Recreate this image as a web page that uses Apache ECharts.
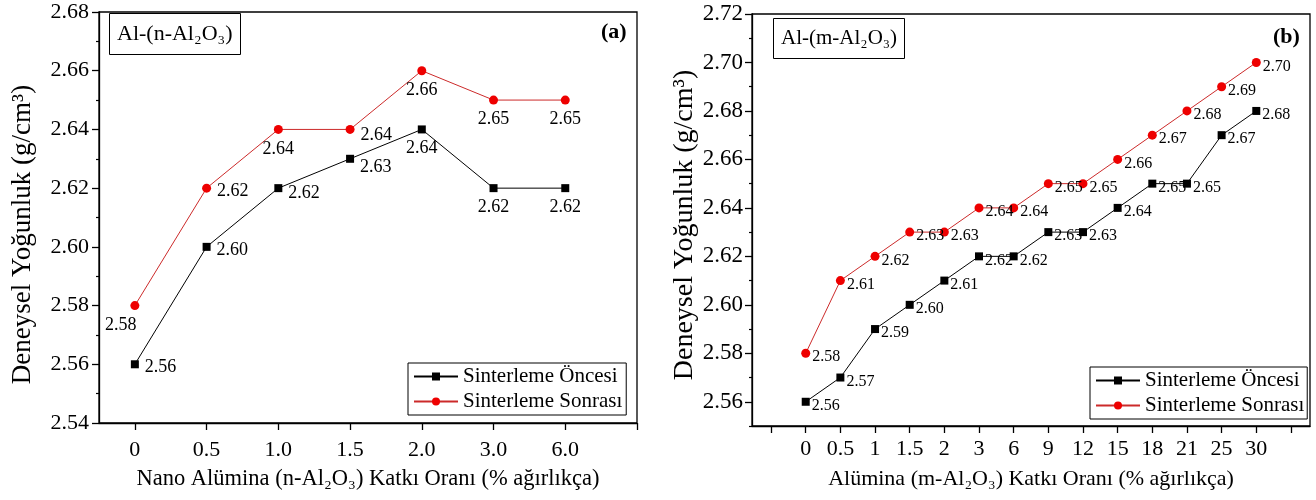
<!DOCTYPE html>
<html><head><meta charset="utf-8">
<script src="https://cdn.jsdelivr.net/npm/echarts@6/dist/echarts.min.js"></script>
<style>html,body{margin:0;padding:0;background:#fff}#c{width:1316px;height:500px}</style>
</head><body><div id="c"></div>
<script>
// ---- data ----
const categoriesA = ['0', '0.5', '1.0', '1.5', '2.0', '3.0', '6.0'];
const oncesiA = [2.56, 2.60, 2.62, 2.63, 2.64, 2.62, 2.62];
const sonrasiA = [2.58, 2.62, 2.64, 2.64, 2.66, 2.65, 2.65];

const categoriesB = ['0', '0.5', '1', '1.5', '2', '3', '6', '9', '12', '15', '18', '21', '25', '30'];
const oncesiB = [2.56, 2.57, 2.59, 2.60, 2.61, 2.62, 2.62, 2.63, 2.63, 2.64, 2.65, 2.65, 2.67, 2.68];
const sonrasiB = [2.58, 2.61, 2.62, 2.63, 2.63, 2.64, 2.64, 2.65, 2.65, 2.66, 2.67, 2.68, 2.69, 2.70];

const yTicksB = [2.56, 2.58, 2.60, 2.62, 2.64, 2.66, 2.68, 2.70, 2.72];
const yMinorB = [2.55, 2.57, 2.59, 2.61, 2.63, 2.65, 2.67, 2.69, 2.71];

const seriesNames = ['Sinterleme Öncesi', 'Sinterleme Sonrası'];
const yTitle = 'Deneysel Yoğunluk (g/cm³)';
const xTitleA = 'Nano Alümina (n-Al₂O₃) Katkı Oranı (% ağırlıkça)';
const xTitleB = 'Alümina (m-Al₂O₃) Katkı Oranı (% ağırlıkça)';

// ---- label placement (layout only) ----
const posOncesiA = ['right', 'right', 'right', 'right', 'bottom', 'bottom', 'bottom'];
const offOncesiA = [[0, 3], [0, 3], [0, 5], [0, 8], [0, 0], [0, 0], [0, 0]];
const posSonrasiA = ['bottom', 'right', 'bottom', 'right', 'bottom', 'bottom', 'bottom'];
const offSonrasiA = [[-14, 0], [0, 3], [0, 0], [0, 6], [0, 0], [0, 0], [0, 0]];

const FONT = 'Liberation Serif';
const RED_LINE = '#cc2a2a';
const RED = '#ee0000';

function buildData(vals, pos, off) {
  return vals.map((v, i) => ({
    value: [i, v],
    label: pos ? { position: pos[i], offset: off[i] } : undefined
  }));
}
const range = (a, b) => { const r = []; for (let i = a; i <= b; i++) r.push(i); return r; };

const chart = echarts.init(document.getElementById('c'), null, { renderer: 'canvas' });

const axisLineStyle = { show: true, onZero: false, lineStyle: { color: '#000', width: 1.3 } };

const option = {
  animation: false,
  textStyle: { fontFamily: FONT, color: '#000' },
  grid: [
    { left: 99, right: 1316 - 637, top: 12, bottom: 500 - 423, show: true, borderColor: '#000', borderWidth: 1.3, backgroundColor: 'transparent' },
    { left: 752, right: 1316 - 1310, top: 14, bottom: 500 - 426, show: true, borderColor: '#000', borderWidth: 1.3, backgroundColor: 'transparent' }
  ],
  title: [
    { text: 'Al-(n-Al₂O₃)', left: 109, top: 13, borderColor: '#000', borderWidth: 1, padding: [10, 8, 10, 8],
      textStyle: { fontFamily: FONT, fontSize: 22, fontWeight: 'normal', color: '#000' } },
    { text: '(a)', left: 601, top: 21, padding: 0,
      textStyle: { fontFamily: FONT, fontSize: 22, fontWeight: 'bold', color: '#000' } },
    { text: 'Al-(m-Al₂O₃)', left: 773, top: 18, borderColor: '#000', borderWidth: 1, padding: [10, 8, 10, 8],
      textStyle: { fontFamily: FONT, fontSize: 21, fontWeight: 'normal', color: '#000' } },
    { text: '(b)', left: 1273, top: 26, padding: 0,
      textStyle: { fontFamily: FONT, fontSize: 22, fontWeight: 'bold', color: '#000' } }
  ],
  legend: [
    { left: 408, top: 363, orient: 'vertical', data: seriesNames, borderColor: '#000', borderWidth: 1,
      padding: [3, 4, 3, 5], itemGap: 4, itemWidth: 44, itemHeight: 10,
      textStyle: { fontFamily: FONT, fontSize: 21, color: '#000' } },
    { left: 1090, top: 367, orient: 'vertical', data: seriesNames, borderColor: '#000', borderWidth: 1,
      padding: [3, 3, 3, 5], itemGap: 4, itemWidth: 44, itemHeight: 10,
      textStyle: { fontFamily: FONT, fontSize: 21, color: '#000' } }
  ],
  xAxis: [
    {
      gridIndex: 0, type: 'value', min: -0.5, max: 7,
      axisLine: axisLineStyle, splitLine: { show: false },
      name: xTitleA, nameLocation: 'middle', nameGap: 45,
      nameTextStyle: { fontFamily: FONT, fontSize: 22.5, color: '#000' },
      axisTick: { show: true, length: 7, lineStyle: { color: '#000', width: 1.3 }, customValues: range(0, 7) },
      axisLabel: { customValues: range(0, categoriesA.length - 1), margin: 16, fontFamily: FONT, fontSize: 22, color: '#000',
        formatter: v => categoriesA[Math.round(v)] ?? '' }
    },
    {
      gridIndex: 1, type: 'value', min: -1.55, max: 14.55,
      axisLine: axisLineStyle, splitLine: { show: false },
      name: xTitleB, nameLocation: 'middle', nameGap: 42,
      nameTextStyle: { fontFamily: FONT, fontSize: 22, color: '#000' },
      axisTick: { show: true, length: 7, lineStyle: { color: '#000', width: 1.3 }, customValues: range(-1, 14) },
      axisLabel: { customValues: range(0, categoriesB.length - 1), margin: 12, fontFamily: FONT, fontSize: 22, color: '#000',
        formatter: v => categoriesB[Math.round(v)] ?? '' }
    }
  ],
  yAxis: [
    {
      gridIndex: 0, type: 'value', min: 2.54, max: 2.68, interval: 0.02,
      axisLine: axisLineStyle, splitLine: { show: false },
      name: yTitle, nameLocation: 'middle', nameGap: 63,
      nameTextStyle: { fontFamily: FONT, fontSize: 27, color: '#000', padding: [0, 34, 0, 0] },
      axisTick: { show: true, length: 7, lineStyle: { color: '#000', width: 1.3 } },
      minorTick: { show: true, splitNumber: 2, length: 3, lineStyle: { color: '#000', width: 1.2 } },
      axisLabel: { margin: 10, fontFamily: FONT, fontSize: 22, color: '#000', formatter: v => v.toFixed(2) }
    },
    {
      gridIndex: 1, type: 'value', min: 2.55, max: 2.72, position: 'left',
      axisLine: axisLineStyle, splitLine: { show: false },
      name: yTitle, nameLocation: 'middle', nameGap: 49,
      nameTextStyle: { fontFamily: FONT, fontSize: 28, color: '#000', padding: [0, 10, 0, 0] },
      axisTick: { show: true, length: 7, lineStyle: { color: '#000', width: 1.3 }, customValues: yTicksB },
      axisLabel: { customValues: yTicksB, margin: 9, fontFamily: FONT, fontSize: 23, color: '#000', formatter: v => v.toFixed(2) }
    },
    {
      gridIndex: 1, type: 'value', min: 2.55, max: 2.72, position: 'left', offset: 0,
      axisLine: { show: false, onZero: false }, splitLine: { show: false },
      axisTick: { show: true, length: 3, lineStyle: { color: '#000', width: 1.2 }, customValues: yMinorB },
      axisLabel: { show: false }
    }
  ],
  series: [
    { name: seriesNames[0], type: 'line', xAxisIndex: 0, yAxisIndex: 0,
      data: buildData(oncesiA, posOncesiA, offOncesiA),
      symbol: 'rect', symbolSize: 8, itemStyle: { color: '#000' }, lineStyle: { color: '#000', width: 1 },
      label: { show: true, fontFamily: FONT, fontSize: 18, color: '#000', distance: 6, formatter: p => p.value[1].toFixed(2) } },
    { name: seriesNames[1], type: 'line', xAxisIndex: 0, yAxisIndex: 0,
      data: buildData(sonrasiA, posSonrasiA, offSonrasiA),
      symbol: 'circle', symbolSize: 9, itemStyle: { color: RED }, lineStyle: { color: RED_LINE, width: 1 },
      label: { show: true, fontFamily: FONT, fontSize: 18, color: '#000', distance: 6, formatter: p => p.value[1].toFixed(2) } },
    { name: seriesNames[0], type: 'line', xAxisIndex: 1, yAxisIndex: 1,
      data: buildData(oncesiB),
      symbol: 'rect', symbolSize: 8, itemStyle: { color: '#000' }, lineStyle: { color: '#000', width: 1 },
      label: { show: true, position: 'right', offset: [0, 4], distance: 2, fontFamily: FONT, fontSize: 16, color: '#000', formatter: p => p.value[1].toFixed(2) } },
    { name: seriesNames[1], type: 'line', xAxisIndex: 1, yAxisIndex: 1,
      data: buildData(sonrasiB),
      symbol: 'circle', symbolSize: 9, itemStyle: { color: RED }, lineStyle: { color: RED_LINE, width: 1 },
      label: { show: true, position: 'right', offset: [0, 4], distance: 2, fontFamily: FONT, fontSize: 16, color: '#000', formatter: p => p.value[1].toFixed(2) } }
  ]
};
chart.setOption(option);
</script>
</body></html>
